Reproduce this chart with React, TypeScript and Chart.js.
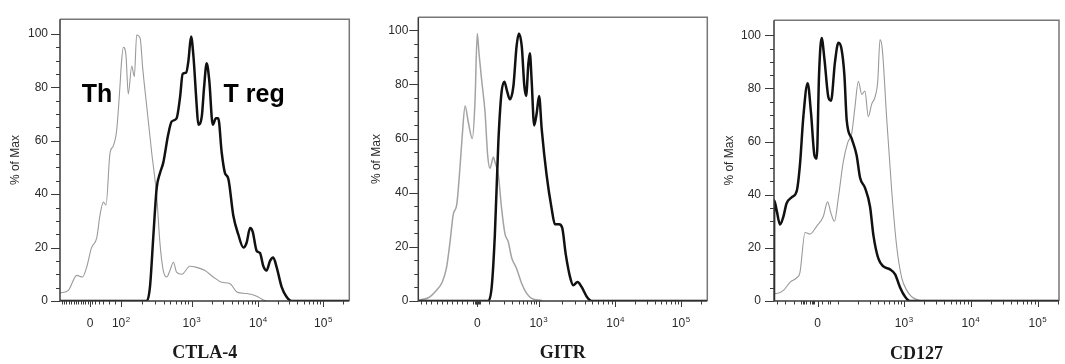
import React, { useEffect, useRef } from 'react';
import { Chart, registerables } from 'chart.js';

Chart.register(...registerables);
Chart.defaults.font.family = '"Liberation Sans", Arial, sans-serif';

// X values are display channels (0..1000 across the biexponential axis), Y values are % of Max.

// ---- CTLA-4 ----
const ctla4ThX = [0, 29, 58, 78, 92, 109, 127, 138, 150, 159, 173, 184, 196, 207, 213, 219, 228, 236, 248, 257, 265, 277, 286, 300, 317, 334, 346, 357, 369, 380, 392, 403, 421, 449, 472, 501, 530, 559, 588, 611, 645, 680, 703, 714];
const ctla4ThY = [3, 4, 9.6, 9, 12.6, 20, 23.6, 32, 37, 36, 55.5, 58, 64, 80, 90, 95, 92, 77.5, 88, 84, 99.6, 98.4, 87, 72.7, 55.5, 39.6, 21, 11.4, 9, 11.4, 14.5, 10.8, 10, 13, 12.6, 11.4, 9, 7, 6.5, 3.4, 2.8, 1.8, 0.4, 0];
const ctla4TregX = [0, 300, 311, 323, 334, 346, 357, 374, 386, 403, 415, 424, 436, 444, 453, 461, 472, 478, 490, 498, 507, 516, 528, 539, 547, 559, 570, 582, 599, 616, 634, 645, 657, 666, 680, 691, 703, 714, 726, 737, 749, 766, 783, 801, 1000];
const ctla4TregY = [0, 0, 5.3, 24.9, 42.1, 48, 51.8, 62.3, 67.2, 68.4, 76.3, 85, 85.5, 90, 99, 92, 74, 66, 69, 80, 89, 82.5, 66, 68.4, 68.4, 55.5, 48, 45.7, 32, 25, 20, 21.8, 27.3, 26, 18.7, 18, 13, 11.4, 15, 16.3, 12.6, 5.3, 1.6, 0, 0];

// ---- GITR ----
const gitrThX = [0, 6, 35, 63, 83, 98, 110, 121, 133, 144, 152, 162, 173, 187, 196, 204, 210, 219, 231, 240, 248, 260, 265, 277, 288, 300, 311, 323, 340, 358, 375, 392, 427];
const gitrThY = [0.2, 0.4, 1.2, 4, 7, 12.5, 22, 32, 35.6, 49, 61, 72, 66, 60, 73, 98.8, 91.5, 81.8, 69.6, 53.8, 49, 53.2, 51.4, 46.5, 34.4, 24.7, 22, 16, 12, 6.4, 2.8, 1, 0.2];
const gitrTregX = [0, 242, 254, 265, 277, 288, 298, 306, 317, 329, 340, 348, 358, 367, 373, 381, 386, 392, 401, 410, 418, 427, 444, 461, 473, 487, 498, 510, 525, 536, 551, 565, 583, 600, 1000];
const gitrTregY = [0, 0, 5.2, 24.7, 58.7, 77, 81, 78, 74.5, 79.3, 94, 98.8, 94, 79.3, 75.7, 87.8, 91.5, 81.8, 64.8, 69.6, 75.7, 63.5, 46.5, 34.4, 28.3, 28.3, 27, 17.4, 8.9, 5.8, 7, 5.2, 1.6, 0, 0];

// ---- CD127 ----
const cd127ThX = [0, 9, 33, 56, 80, 91, 109, 126, 150, 173, 188, 200, 212, 226, 243, 259, 273, 284, 296, 308, 319, 331, 343, 354, 364, 372, 380, 395, 413, 430, 448, 466, 483, 506, 530];
const cd127ThY = [2.8, 2.8, 4, 7, 8.8, 10.7, 25.8, 25.2, 28.2, 31.8, 37.3, 33, 30, 39, 52.4, 59.7, 63.3, 73, 82.7, 77.8, 79, 69.4, 74.2, 76.6, 82.7, 98.4, 94.8, 69.4, 41.5, 21, 8.8, 4, 1.6, 0.4, 0];
const cd127TregX = [0, 0.5, 9, 21, 33, 44, 62, 80, 91, 103, 118, 130, 142, 150, 158, 167, 177, 191, 200, 214, 226, 237, 247, 255, 273, 290, 302, 319, 337, 349, 366, 384, 407, 425, 442, 460, 477, 1000];
const cd127TregY = [0, 37.9, 34.3, 28.8, 31.8, 36.7, 39, 41.5, 51.2, 69.4, 82, 70.6, 54.8, 53.6, 85, 99, 91, 76.6, 75.4, 90, 97.2, 94.8, 85, 68.2, 61, 54.8, 46.4, 42.7, 35.5, 24.6, 16, 13, 11.9, 10, 5.2, 1.6, 0, 0];

// ---- Axis tick labels ----
const yTickValues = [0, 20, 40, 60, 80, 100];
const ctla4TickPos = [104, 211, 455, 685, 910];
const ctla4TickLabels = ['0', '10^2', '10^3', '10^4', '10^5'];
const gitrTickPos = [204, 416, 682, 909];
const gitrTickLabels = ['0', '10^3', '10^4', '10^5'];
const cd127TickPos = [153, 456, 690, 925];
const cd127TickLabels = ['0', '10^3', '10^4', '10^5'];

const xTitles = ['CTLA-4', 'GITR', 'CD127'];
const yTitle = '% of Max';

// tick-mark helpers (marks only)
const logMinors = (start: number, decade: number) => {
  const out: number[] = [];
  for (let m = 2; m <= 9; m++) {
    const v = start + decade * Math.log10(m);
    if (v < 1000) out.push(v);
  }
  return out;
};
const spread = (a: number, b: number, n: number) => {
  const out: number[] = [];
  for (let i = 0; i < n; i++) out.push(a + ((b - a) * i) / (n - 1));
  return out;
};
const yMinorValues = (() => {
  const out: number[] = [];
  for (let v = 5; v < 105; v += 5) if (v % 20 !== 0) out.push(v);
  return out;
})();

type Panel = {
  left: number;
  width: number;
  yAxisWidth: number;
  padRight: number;
  padTop: number;
  yMax: number;
  yTickPad: number;
  yTitlePad: number;
  xTitlePad: number;
  title: string;
  tickPos: number[];
  tickLabels: string[];
  minor: number[];
  thX: number[];
  thY: number[];
  tregX: number[];
  tregY: number[];
  thWidth: number;
  thColor: string;
  notes: { text: string; x: number; y: number }[];
};

const zip = (xs: number[], ys: number[]) => xs.map((x, i) => ({ x, y: ys[i] }));

const panels: Panel[] = [
  {
    left: 0, width: 355, yAxisWidth: 60, padRight: 5.7, padTop: 14, yMax: 105.5,
    yTickPad: 12, yTitlePad: 8.5, xTitlePad: 0,
    title: xTitles[0], tickPos: ctla4TickPos, tickLabels: ctla4TickLabels,
    minor: [...spread(6, 96, 12), 112, 122, 135, 150, 168, 190, ...logMinors(211, 244), ...logMinors(455, 230), ...logMinors(685, 225), ...logMinors(910, 225)],
    thX: ctla4ThX, thY: ctla4ThY, tregX: ctla4TregX, tregY: ctla4TregY,
    thWidth: 1.1, thColor: '#9a9a9a',
    notes: [
      { text: 'Th', x: 128, y: 77 },
      { text: 'T reg', x: 671, y: 77 },
    ],
  },
  {
    left: 355, width: 357, yAxisWidth: 63.3, padRight: 4.7, padTop: 13.3, yMax: 104.8,
    yTickPad: 10, yTitlePad: 14.5, xTitlePad: 0,
    title: xTitles[1], tickPos: gitrTickPos, tickLabels: gitrTickLabels,
    minor: [...spread(10, 188, 11), 196, 199, 201, 207, 209, 212, 243, ...logMinors(243, 173), ...logMinors(416, 266), ...logMinors(682, 227), ...logMinors(909, 227)],
    thX: gitrThX, thY: gitrThY, tregX: gitrTregX, tregY: gitrTregY,
    thWidth: 1.5, thColor: '#a3a3a3',
    notes: [],
  },
  {
    left: 712, width: 353, yAxisWidth: 62, padRight: 6, padTop: 10, yMax: 105.7,
    yTickPad: 13, yTitlePad: 10.8, xTitlePad: -1.5,
    title: xTitles[2], tickPos: cd127TickPos, tickLabels: cd127TickLabels,
    minor: [9, 39, 70, 95, 101, 106, 111, 126, 132, 137, 142, 167, 190, 197, 225, ...logMinors(225, 231), ...logMinors(456, 234), ...logMinors(690, 235), ...logMinors(925, 235)],
    thX: cd127ThX, thY: cd127ThY, tregX: cd127TregX, tregY: cd127TregY,
    thWidth: 1.1, thColor: '#9a9a9a',
    notes: [],
  },
];

const FONT = '"Liberation Sans", Arial, sans-serif';

const makeFramePlugin = (p: Panel) => ({
  id: 'frame',
  afterDatasetsDraw(chart: any) {
    const { ctx, chartArea: a, scales } = chart;
    const x = scales.x;
    const y = scales.y;
    ctx.save();
    // tick marks
    ctx.strokeStyle = '#3a3a3a';
    ctx.lineWidth = 1;
    ctx.beginPath();
    for (const v of p.tickPos) {
      const px = Math.round(x.getPixelForValue(v)) + 0.5;
      ctx.moveTo(px, a.bottom);
      ctx.lineTo(px, a.bottom + 6);
    }
    for (const v of p.minor) {
      const px = Math.round(x.getPixelForValue(v)) + 0.5;
      ctx.moveTo(px, a.bottom);
      ctx.lineTo(px, a.bottom + 3.5);
    }
    for (const v of yTickValues) {
      const py = Math.round(y.getPixelForValue(v)) + 0.5;
      ctx.moveTo(a.left, py);
      ctx.lineTo(a.left - 9, py);
    }
    for (const v of yMinorValues) {
      if (v > p.yMax) continue;
      const py = Math.round(y.getPixelForValue(v)) + 0.5;
      ctx.moveTo(a.left, py);
      ctx.lineTo(a.left - 4, py);
    }
    ctx.stroke();
    // frame: top & right lighter, left & bottom darker
    ctx.lineWidth = 1.5;
    ctx.strokeStyle = '#777';
    ctx.beginPath();
    ctx.moveTo(a.left, a.top);
    ctx.lineTo(a.right, a.top);
    ctx.lineTo(a.right, a.bottom);
    ctx.stroke();
    ctx.strokeStyle = '#3a3a3a';
    ctx.beginPath();
    ctx.moveTo(a.left, a.top);
    ctx.lineTo(a.left, a.bottom);
    ctx.lineTo(a.right, a.bottom);
    ctx.stroke();
    // x tick labels with superscript exponents
    ctx.fillStyle = '#2a2a2a';
    ctx.textBaseline = 'alphabetic';
    ctx.textAlign = 'left';
    const baseY = a.bottom + 26;
    p.tickPos.forEach((v, i) => {
      const [base, exp] = p.tickLabels[i].split('^');
      ctx.font = `12px ${FONT}`;
      const bw = ctx.measureText(base).width;
      let ew = 0;
      if (exp) {
        ctx.font = `8px ${FONT}`;
        ew = ctx.measureText(exp).width + 0.5;
      }
      const cx = x.getPixelForValue(v);
      const start = cx - (bw + ew) / 2;
      ctx.font = `12px ${FONT}`;
      ctx.fillText(base, start, baseY);
      if (exp) {
        ctx.font = `8px ${FONT}`;
        ctx.fillText(exp, start + bw + 0.5, baseY - 5);
      }
    });
    // annotations
    ctx.fillStyle = '#000';
    ctx.font = `bold 25px ${FONT}`;
    ctx.textAlign = 'center';
    ctx.textBaseline = 'middle';
    for (const n of p.notes) {
      ctx.fillText(n.text, x.getPixelForValue(n.x), y.getPixelForValue(n.y));
    }
    ctx.restore();
  },
});

function PanelChart({ p }: { p: Panel }) {
  const ref = useRef<HTMLCanvasElement | null>(null);
  useEffect(() => {
    if (!ref.current) return;
    const chart = new Chart(ref.current, {
      type: 'line',
      data: {
        datasets: [
          {
            label: 'T reg',
            data: zip(p.tregX, p.tregY),
            borderColor: '#111',
            borderWidth: 2.5,
            order: 0,
          },
          {
            label: 'Th',
            data: zip(p.thX, p.thY),
            borderColor: p.thColor,
            borderWidth: p.thWidth,
            order: 1,
          },
        ],
      },
      options: {
        responsive: false,
        animation: false,
        devicePixelRatio: 1,
        parsing: false as any,
        layout: { padding: { left: 0, right: p.padRight, top: p.padTop, bottom: 0 } },
        plugins: {
          legend: { display: false },
          tooltip: { enabled: false },
        },
        elements: {
          point: { radius: 0 },
          line: { cubicInterpolationMode: 'monotone', borderJoinStyle: 'round', borderCapStyle: 'round', fill: false },
        },
        scales: {
          x: {
            type: 'linear',
            min: 0,
            max: 1000,
            grid: { display: false, drawTicks: false, tickLength: 0 },
            border: { display: false },
            afterBuildTicks: (s: any) => {
              s.ticks = p.tickPos.map((v) => ({ value: v }));
            },
            afterFit: (s: any) => {
              s.height = 63;
            },
            ticks: { display: false, autoSkip: false, maxRotation: 0, minRotation: 0 },
            title: {
              display: true,
              text: p.title,
              color: '#1a1a1a',
              font: { family: '"Liberation Serif", "Times New Roman", serif', size: 18, weight: 'bold' },
              padding: { top: 0, bottom: p.xTitlePad },
            },
          },
          y: {
            type: 'linear',
            min: 0,
            max: p.yMax,
            grid: { display: false, drawTicks: false, tickLength: 0 },
            border: { display: false },
            afterBuildTicks: (s: any) => {
              s.ticks = yTickValues.map((v) => ({ value: v }));
            },
            afterFit: (s: any) => {
              s.width = p.yAxisWidth;
            },
            ticks: {
              padding: p.yTickPad,
              color: '#2a2a2a',
              font: { size: 12 },
              callback: (v: any) => String(v),
            },
            title: {
              display: true,
              text: yTitle,
              color: '#2a2a2a',
              font: { size: 12 },
              padding: { top: p.yTitlePad, bottom: 0 },
            },
          },
        },
      },
      plugins: [makeFramePlugin(p)],
    } as any);
    return () => chart.destroy();
  }, [p]);
  return (
    <canvas
      ref={ref}
      width={p.width}
      height={364}
      style={{ position: 'absolute', left: p.left, top: 0, width: p.width, height: 364, display: 'block' }}
    />
  );
}

export default function App() {
  return (
    <div style={{ position: 'fixed', left: 0, top: 0, width: 1065, height: 364, background: '#fff', overflow: 'hidden' }}>
      {panels.map((p, i) => (
        <PanelChart key={i} p={p} />
      ))}
    </div>
  );
}
